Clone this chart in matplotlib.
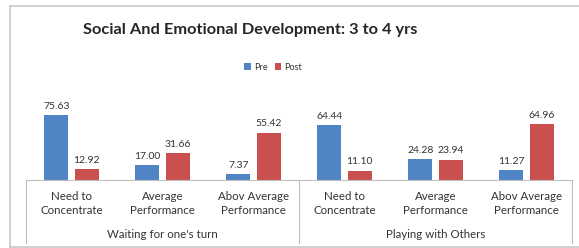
import numpy as np
import matplotlib.pyplot as plt
from matplotlib.transforms import blended_transform_factory
from matplotlib.lines import Line2D

plt.rcParams['font.family'] = ['Lato', 'DejaVu Sans']

# data
groups = ["Waiting for one's turn", "Playing with Others"]
categories = ["Need to\nConcentrate", "Average\nPerformance", "Abov Average\nPerformance"] * 2
pre = [75.63, 17.00, 7.37, 64.44, 24.28, 11.27]
post = [12.92, 31.66, 55.42, 11.10, 23.94, 64.96]

blue = '#4F85C4'
red = '#C9504E'
grey = '#BFBFBF'
txt = '#333333'

fig = plt.figure(figsize=(5.79, 2.48), dpi=100)
ax = fig.add_axes([26 / 579, 1 - 180 / 248, 546 / 579, 68.4 / 248])

x = np.arange(len(categories))
w = 0.264
b1 = ax.bar(x - 0.165, pre, w, color=blue, label='Pre')
b2 = ax.bar(x + 0.165, post, w, color=red, label='Post')

for bars, vals in [(b1, pre), (b2, post)]:
    for r, v in zip(bars, vals):
        ax.annotate(f'{v:.2f}', (r.get_x() + r.get_width() / 2, v),
                    xytext=(0, 3), textcoords='offset points',
                    ha='center', va='bottom', fontsize=7.5, color=txt)

ax.set_xlim(-0.5, 5.5)
ax.set_ylim(0, 80)
ax.set_yticks([])
ax.set_xticks(x)
ax.set_xticklabels(categories, fontsize=8.3, color=txt, linespacing=1.35)
ax.tick_params(axis='x', length=0, pad=8)
for s in ['left', 'right', 'top']:
    ax.spines[s].set_visible(False)
ax.spines['bottom'].set_color(grey)

# group separators and labels
trans = blended_transform_factory(ax.transData, ax.transAxes)
bottom_y = -(243 - 180) / 68.4
for xs in [-0.5, 2.5, 5.5]:
    ax.add_line(Line2D([xs, xs], [0, bottom_y], transform=trans,
                       color=grey, lw=0.8, clip_on=False))
for i, g in enumerate(groups):
    ax.text(3 * i + 1, -(235 - 180) / 68.4, g, transform=trans,
            ha='center', va='center', fontsize=8.3, color=txt)

# title and legend
fig.text(250 / 579, 1 - 30 / 248, 'Social And Emotional Development: 3 to 4 yrs',
         ha='center', va='center', fontsize=11.8, fontweight='bold', color='#262626')
fig.legend(handles=[b1, b2], loc='center', bbox_to_anchor=(273 / 579, 1 - 67 / 248),
           ncol=2, frameon=False, fontsize=6.6, handlelength=0.7, handleheight=0.7,
           handletextpad=0.3, columnspacing=0.8, labelcolor=txt)

# outer chart border
for xs, ys in [([10, 579], [6, 6]), ([10, 10], [6, 247]), ([10, 579], [247, 247])]:
    fig.add_artist(Line2D([v / 579 for v in xs], [1 - v / 248 for v in ys],
                          color='#C8C8C8', lw=1.2))

fig.savefig('out.png', dpi=100)
